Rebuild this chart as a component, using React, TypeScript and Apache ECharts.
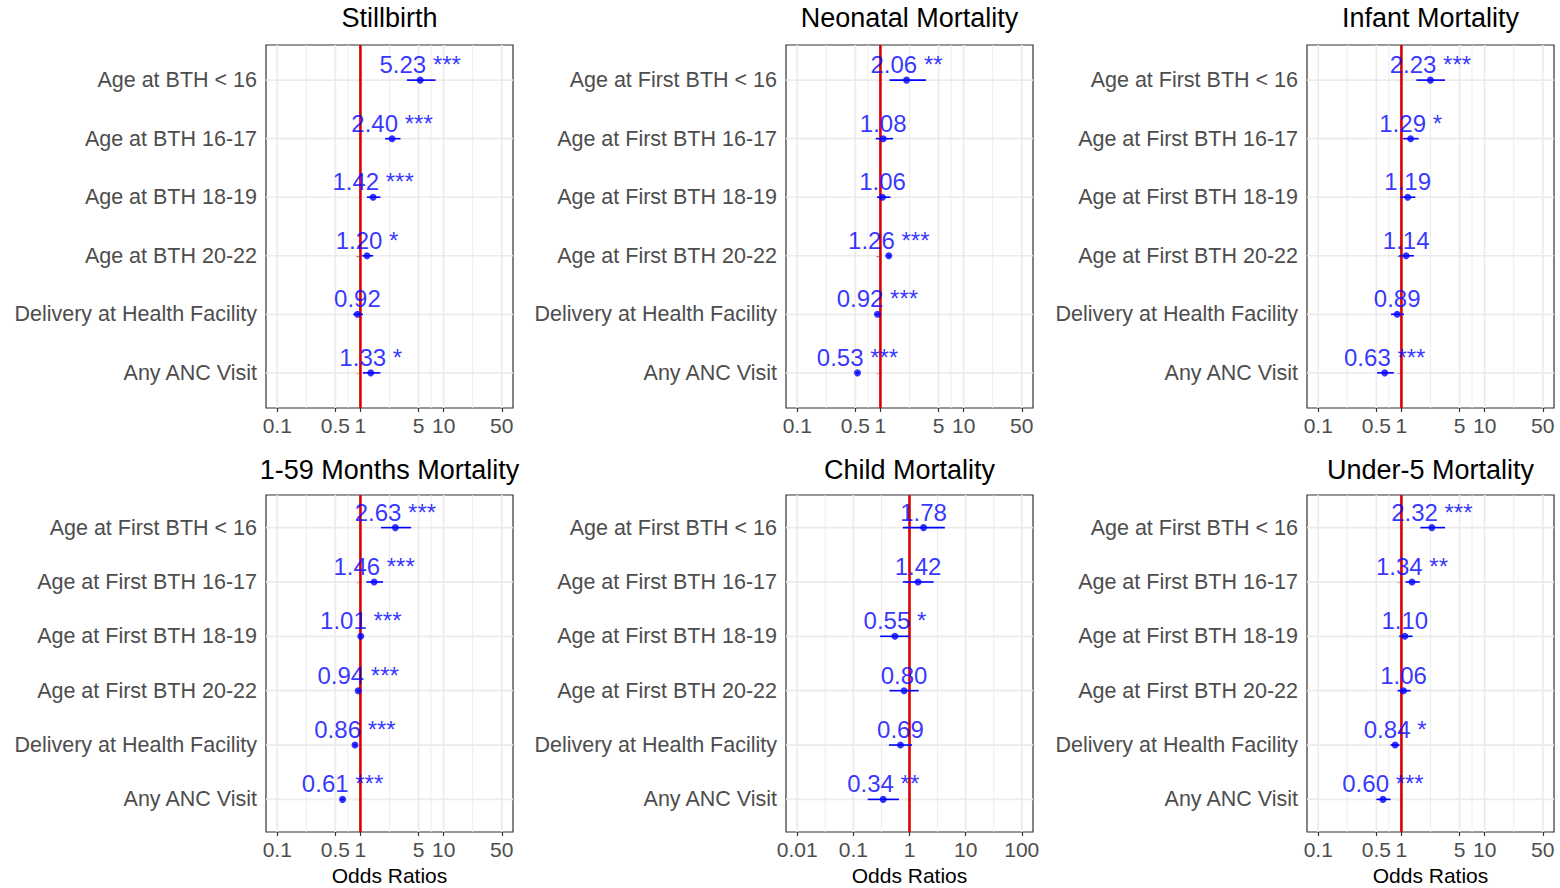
import React, { useEffect, useRef } from "react";
import * as echarts from "echarts";

const FONT = "'Liberation Sans', Arial, Helvetica, sans-serif";

// ---- categories ----
const catsStillbirth = [
  "Age at BTH < 16",
  "Age at BTH 16-17",
  "Age at BTH 18-19",
  "Age at BTH 20-22",
  "Delivery at Health Facility",
  "Any ANC Visit",
];
const catsFirst = [
  "Age at First BTH < 16",
  "Age at First BTH 16-17",
  "Age at First BTH 18-19",
  "Age at First BTH 20-22",
  "Delivery at Health Facility",
  "Any ANC Visit",
];

// ---- x axis ticks / limits ----
const ticksStd = [0.1, 0.5, 1, 5, 10, 50];
const limitsStd = [0.1, 50];
const ticksChild = [0.01, 0.1, 1, 10, 100];
const limitsChild = [0.01, 100];
const REF_OR = 1;

// ---- Stillbirth ----
const stillbirthOR = [5.23, 2.4, 1.42, 1.2, 0.92, 1.33];
const stillbirthLo = [3.62, 1.98, 1.2, 1.05, 0.82, 1.07];
const stillbirthHi = [8.01, 3.03, 1.74, 1.42, 1.07, 1.74];
const stillbirthSig = ["***", "***", "***", "*", "", "*"];

// ---- Neonatal ----
const neonatalOR = [2.06, 1.08, 1.06, 1.26, 0.92, 0.53];
const neonatalLo = [1.29, 0.88, 0.91, 1.21, 0.89, 0.51];
const neonatalHi = [3.52, 1.42, 1.32, 1.31, 0.95, 0.55];
const neonatalSig = ["**", "", "", "***", "***", "***"];

// ---- Infant ----
const infantOR = [2.23, 1.29, 1.19, 1.14, 0.89, 0.63];
const infantLo = [1.51, 1.05, 0.97, 0.94, 0.75, 0.51];
const infantHi = [3.34, 1.61, 1.47, 1.41, 1.07, 0.81];
const infantSig = ["***", "*", "", "", "", "***"];

// ---- 1-59 Months ----
const monthsOR = [2.63, 1.46, 1.01, 0.94, 0.86, 0.61];
const monthsLo = [1.77, 1.18, 0.98, 0.91, 0.83, 0.58];
const monthsHi = [4.07, 1.87, 1.04, 0.97, 0.89, 0.64];
const monthsSig = ["***", "***", "***", "***", "***", "***"];

// ---- Child ----
const childOR = [1.78, 1.42, 0.55, 0.8, 0.69, 0.34];
const childLo = [0.76, 0.76, 0.3, 0.44, 0.43, 0.18];
const childHi = [4.26, 2.69, 1.0, 1.46, 1.11, 0.65];
const childSig = ["", "", "*", "", "", "**"];

// ---- Under-5 ----
const under5OR = [2.32, 1.34, 1.1, 1.06, 0.84, 0.6];
const under5Lo = [1.69, 1.12, 0.94, 0.9, 0.74, 0.5];
const under5Hi = [3.34, 1.66, 1.36, 1.29, 0.95, 0.74];
const under5Sig = ["***", "**", "", "", "*", "***"];

const panels = [
  { title: "Stillbirth", cats: catsStillbirth, or: stillbirthOR, lo: stillbirthLo, hi: stillbirthHi, sig: stillbirthSig, ticks: ticksStd, limits: limitsStd },
  { title: "Neonatal Mortality", cats: catsFirst, or: neonatalOR, lo: neonatalLo, hi: neonatalHi, sig: neonatalSig, ticks: ticksStd, limits: limitsStd },
  { title: "Infant Mortality", cats: catsFirst, or: infantOR, lo: infantLo, hi: infantHi, sig: infantSig, ticks: ticksStd, limits: limitsStd },
  { title: "1-59 Months Mortality", cats: catsFirst, or: monthsOR, lo: monthsLo, hi: monthsHi, sig: monthsSig, ticks: ticksStd, limits: limitsStd },
  { title: "Child Mortality", cats: catsFirst, or: childOR, lo: childLo, hi: childHi, sig: childSig, ticks: ticksChild, limits: limitsChild },
  { title: "Under-5 Mortality", cats: catsFirst, or: under5OR, lo: under5Lo, hi: under5Hi, sig: under5Sig, ticks: ticksStd, limits: limitsStd },
];

const colLeft = [266, 786, 1307];
const colWidth = 247;
const rowTop = [45, 495];
const rowHeight = [363, 337];
const titleTop = [4, 456];

const BLUE = "#0000FF";
const RED = "#DD0000";
const GRIDC = "#EBEBEB";

function buildOption() {
  const grids: any[] = [];
  const xAxes: any[] = [];
  const yAxes: any[] = [];
  const series: any[] = [];
  const graphics: any[] = [];

  panels.forEach((p, i) => {
    const col = i % 3;
    const row = Math.floor(i / 3);
    const left = colLeft[col];
    const top = rowTop[row];
    const height = rowHeight[row];
    grids.push({
      left, top, width: colWidth, height,
      show: true, borderColor: "#333333", borderWidth: 1.2, backgroundColor: "transparent",
    });
    const lmin = Math.log10(p.limits[0]);
    const lmax = Math.log10(p.limits[1]);
    const pad = 0.05 * (lmax - lmin);
    const tickLogs = p.ticks.map((t) => Math.log10(t));
    const minorLogs: number[] = [];
    for (let k = 0; k < tickLogs.length - 1; k++) minorLogs.push((tickLogs[k] + tickLogs[k + 1]) / 2);
    const n = p.cats.length;
    const yPos = p.cats.map((_, k) => k + 1);

    xAxes.push({
      gridIndex: i, type: "value", min: lmin - pad, max: lmax + pad,
      axisLine: { show: false }, splitLine: { show: false }, minorSplitLine: { show: false },
      axisTick: { show: true, customValues: tickLogs, length: 4, lineStyle: { color: "#333333", width: 1.2 } },
      axisLabel: {
        customValues: tickLogs,
        formatter: (v: number) => {
          const t = p.ticks.find((tt) => Math.abs(Math.log10(tt) - v) < 1e-6);
          return t === undefined ? "" : String(t);
        },
        color: "#4D4D4D", fontSize: 21, fontFamily: FONT, margin: 7,
      },
      name: row === 1 ? "Odds Ratios" : "",
      nameLocation: "middle", nameGap: 33,
      nameTextStyle: { color: "#000000", fontSize: 21, fontFamily: FONT },
    });
    yAxes.push({
      gridIndex: i, type: "value", min: 0.4, max: n + 0.6, inverse: true,
      axisLine: { show: false }, splitLine: { show: false },
      axisTick: { show: true, customValues: yPos, length: 4, lineStyle: { color: "#333333", width: 1.2 } },
      axisLabel: {
        customValues: yPos,
        formatter: (v: number) => p.cats[Math.round(v) - 1] ?? "",
        color: "#4D4D4D", fontSize: 21.5, fontFamily: FONT, margin: 9,
      },
    });

    // gridlines
    const gl: any[] = [];
    tickLogs.forEach((v) => gl.push([0, v, 1]));
    minorLogs.forEach((v) => gl.push([0, v, 0]));
    yPos.forEach((v) => gl.push([1, v, 1]));
    series.push({
      type: "custom", xAxisIndex: i, yAxisIndex: i, z: 1, silent: true,
      data: gl,
      renderItem: (params: any, api: any) => {
        const cs = params.coordSys;
        const kind = api.value(0);
        const v = api.value(1);
        const major = api.value(2);
        let shape;
        if (kind === 0) {
          const x = api.coord([v, 1])[0];
          shape = { x1: x, y1: cs.y, x2: x, y2: cs.y + cs.height };
        } else {
          const y = api.coord([0, v])[1];
          shape = { x1: cs.x, y1: y, x2: cs.x + cs.width, y2: y };
        }
        return { type: "line", shape, style: { stroke: GRIDC, lineWidth: major ? 1.7 : 0.9 } };
      },
    });
    // reference line
    series.push({
      type: "custom", xAxisIndex: i, yAxisIndex: i, z: 2, silent: true,
      data: [[Math.log10(REF_OR), 1]],
      renderItem: (params: any, api: any) => {
        const cs = params.coordSys;
        const x = api.coord([api.value(0), 1])[0];
        return { type: "line", shape: { x1: x, y1: cs.y, x2: x, y2: cs.y + cs.height }, style: { stroke: RED, lineWidth: 2.6 } };
      },
    });
    // error bars
    series.push({
      type: "custom", xAxisIndex: i, yAxisIndex: i, z: 3, silent: true,
      encode: { y: 0, x: [1, 2] },
      data: p.or.map((_, k) => [k + 1, Math.log10(p.lo[k]), Math.log10(p.hi[k])]),
      renderItem: (params: any, api: any) => {
        const y = api.value(0);
        const a = api.coord([api.value(1), y]);
        const b = api.coord([api.value(2), y]);
        return { type: "line", shape: { x1: a[0], y1: a[1], x2: b[0], y2: b[1] }, style: { stroke: BLUE, lineWidth: 1.6 } };
      },
    });
    // points + labels
    const labels = p.or.map((v, k) => v.toFixed(2) + (p.sig[k] ? " " + p.sig[k] : ""));
    series.push({
      type: "scatter", xAxisIndex: i, yAxisIndex: i, z: 4, silent: true,
      symbol: "circle", symbolSize: 7,
      itemStyle: { color: BLUE },
      data: p.or.map((v, k) => [Math.log10(v), k + 1]),
      label: {
        show: true, position: "top", distance: 0,
        formatter: (prm: any) => labels[prm.dataIndex],
        color: BLUE, fontSize: 24, fontFamily: FONT,
      },
    });

    graphics.push({
      type: "text", x: left + colWidth / 2, y: titleTop[row],
      style: { text: p.title, fontSize: 27, fontFamily: FONT, fill: "#000000", align: "center", verticalAlign: "top" },
    });
  });

  return {
    animation: false,
    backgroundColor: "#FFFFFF",
    grid: grids,
    xAxis: xAxes,
    yAxis: yAxes,
    series,
    graphic: graphics,
  };
}

export default function App() {
  const ref = useRef<HTMLDivElement>(null);
  useEffect(() => {
    if (!ref.current) return;
    const chart = echarts.init(ref.current, undefined, { renderer: "svg" });
    chart.setOption(buildOption() as any);
    return () => chart.dispose();
  }, []);
  return <div ref={ref} style={{ position: "fixed", left: 0, top: 0, width: 1560, height: 888 }} />;
}
